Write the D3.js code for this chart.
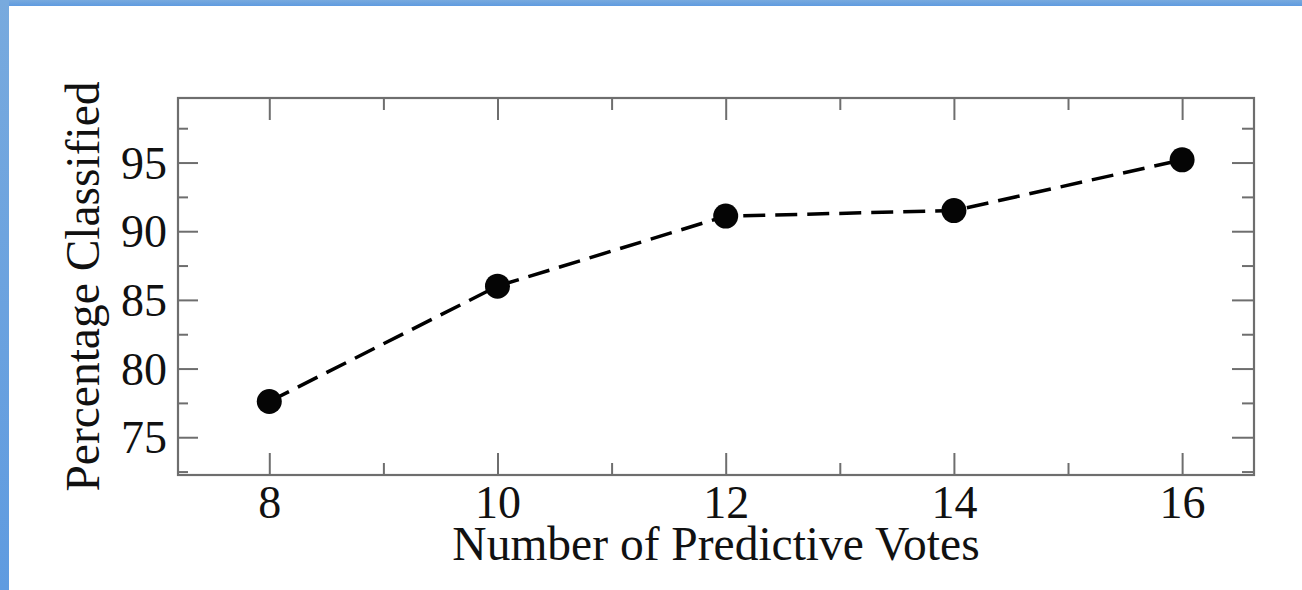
<!DOCTYPE html>
<html>
<head>
<meta charset="utf-8">
<script src="https://cdn.jsdelivr.net/npm/d3@7"></script>
<style>
  html, body { margin: 0; padding: 0; background: #fff; }
  svg { display: block; }
  .axis path { display: none; }
  .axis line { stroke: #6e6e6e; stroke-width: 2; }
  .axis text { font-family: "Liberation Serif", "Times New Roman", serif; font-size: 46px; fill: #111; }
</style>
</head>
<body>
<script>
// chart data
var votes = [8, 10, 12, 14, 16];
var percentClassified = [77.6, 86.0, 91.1, 91.5, 95.2];

// tick values
var xMajorTicks = [8, 10, 12, 14, 16];
var xMinorTicks = [9, 11, 13, 15];
var yMajorTicks = [75, 80, 85, 90, 95];
var yMinorTicks = [72.5, 77.5, 82.5, 87.5, 92.5, 97.5];

var xTitle = "Number of Predictive Votes";
var yTitle = "Percentage Classified";

window.onload = drawChart();

function drawChart() {
    var width = 1302,
        height = 590;

    var margin = {left: 178, top: 98, right: 48, bottom: 115};
    var w = width - margin.left - margin.right,
        h = height - margin.top - margin.bottom;

    var svg = d3.select("body")
        .append("svg")
        .attr("width", width)
        .attr("height", height);

    //blue slide border, top and left
    var defs = svg.append("defs");
    var grad = defs.append("linearGradient")
        .attr("id", "blueGrad")
        .attr("x1", 0).attr("y1", 0).attr("x2", 0).attr("y2", 1);
    grad.append("stop").attr("offset", "0%").attr("stop-color", "#78aade");
    grad.append("stop").attr("offset", "100%").attr("stop-color", "#5f9be0");

    svg.append("rect").attr("x", 0).attr("y", 0).attr("width", width).attr("height", 6)
        .attr("fill", "url(#blueGrad)");
    svg.append("rect").attr("x", 0).attr("y", 0).attr("width", 9).attr("height", height)
        .attr("fill", "url(#blueGrad)");

    var x = d3.scaleLinear().domain([7.2, 16.63]).range([0, w]);
    var y = d3.scaleLinear().domain([72.25, 99.7]).range([h, 0]);

    var g = svg.append("g")
        .attr("transform", "translate(" + margin.left + "," + margin.top + ")");

    //inward ticks on all four sides
    var xAxis = g.append("g").attr("class", "axis")
        .attr("transform", "translate(0," + h + ")")
        .call(d3.axisBottom(x).tickValues(xMajorTicks).tickSize(-22).tickFormat(d3.format("d")));
    g.append("g").attr("class", "axis")
        .attr("transform", "translate(0," + h + ")")
        .call(d3.axisBottom(x).tickValues(xMinorTicks).tickSize(-12).tickFormat(""));
    g.append("g").attr("class", "axis")
        .call(d3.axisTop(x).tickValues(xMajorTicks).tickSize(-22).tickFormat(""));
    g.append("g").attr("class", "axis")
        .call(d3.axisTop(x).tickValues(xMinorTicks).tickSize(-12).tickFormat(""));

    var yAxis = g.append("g").attr("class", "axis")
        .call(d3.axisLeft(y).tickValues(yMajorTicks).tickSize(-20).tickPadding(11).tickFormat(d3.format("d")));
    g.append("g").attr("class", "axis")
        .call(d3.axisLeft(y).tickValues(yMinorTicks).tickSize(-10).tickFormat(""));
    g.append("g").attr("class", "axis")
        .attr("transform", "translate(" + w + ",0)")
        .call(d3.axisRight(y).tickValues(yMajorTicks).tickSize(-22).tickFormat(""));
    g.append("g").attr("class", "axis")
        .attr("transform", "translate(" + w + ",0)")
        .call(d3.axisRight(y).tickValues(yMinorTicks).tickSize(-12).tickFormat(""));

    //tick label placement
    yAxis.selectAll(".tick text").attr("dy", "0.34em");
    xAxis.selectAll(".tick text").attr("y", 43).attr("dy", null);

    //frame
    g.append("rect")
        .attr("x", 0).attr("y", 0)
        .attr("width", w).attr("height", h)
        .attr("fill", "none")
        .attr("stroke", "#6e6e6e")
        .attr("stroke-width", 2.2);

    var points = votes.map(function(v, i) { return [v, percentClassified[i]]; });

    var line = d3.line()
        .x(function(d) { return x(d[0]); })
        .y(function(d) { return y(d[1]); });

    g.append("path")
        .datum(points)
        .attr("d", line)
        .attr("fill", "none")
        .attr("stroke", "#000")
        .attr("stroke-width", 3.5)
        .attr("stroke-dasharray", "22,10");

    g.selectAll(".dot")
        .data(points)
        .enter()
        .append("circle")
        .attr("class", "dot")
        .attr("cx", function(d) { return x(d[0]); })
        .attr("cy", function(d) { return y(d[1]); })
        .attr("r", 12.5)
        .attr("fill", "#050505");

    //axis titles
    svg.append("text")
        .attr("x", margin.left + w / 2)
        .attr("y", 560)
        .attr("text-anchor", "middle")
        .attr("font-family", "Liberation Serif, Times New Roman, serif")
        .attr("font-size", 47.5)
        .attr("fill", "#111")
        .text(xTitle);

    svg.append("text")
        .attr("transform", "translate(99," + (margin.top + h / 2) + ") rotate(-90)")
        .attr("text-anchor", "middle")
        .attr("font-family", "Liberation Serif, Times New Roman, serif")
        .attr("font-size", 47.5)
        .attr("fill", "#111")
        .text(yTitle);
}
</script>
</body>
</html>
